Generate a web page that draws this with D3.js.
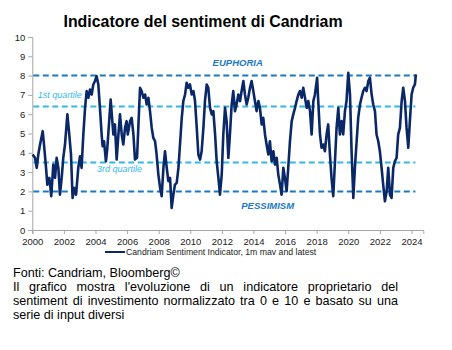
<!DOCTYPE html>
<html lang="it">
<head>
<meta charset="utf-8">
<title>Indicatore del sentiment di Candriam</title>
<script src="https://d3js.org/d3.v7.min.js"></script>
<style>
  body { margin: 0; background: #fff; }
  svg { font-family: "Liberation Sans", Arial, sans-serif; }
  .tick text { fill: #222; }
</style>
</head>
<body>
<svg id="chart" width="452" height="350"></svg>
<script>
// series: decimal year / indicator value
var years = [
  2000.02, 2000.17, 2000.28, 2000.38, 2000.49, 2000.66, 2000.74, 2000.87, 2000.95, 2001.08,
  2001.20, 2001.33, 2001.44, 2001.54, 2001.65, 2001.75, 2001.86, 2001.96, 2002.07, 2002.22,
  2002.34, 2002.45, 2002.55, 2002.66, 2002.77, 2002.91, 2003.02, 2003.12, 2003.23, 2003.34,
  2003.44, 2003.55, 2003.65, 2003.76, 2003.86, 2003.97, 2004.07, 2004.18, 2004.28, 2004.39,
  2004.45, 2004.54, 2004.66, 2004.75, 2004.88, 2004.96, 2005.05, 2005.13, 2005.23, 2005.34,
  2005.45, 2005.55, 2005.66, 2005.76, 2005.87, 2005.97, 2006.04, 2006.19, 2006.29, 2006.40,
  2006.50, 2006.63, 2006.71, 2006.82, 2006.92, 2007.03, 2007.14, 2007.24, 2007.35, 2007.45,
  2007.56, 2007.66, 2007.77, 2007.87, 2007.98, 2008.09, 2008.19, 2008.30, 2008.40, 2008.51,
  2008.61, 2008.72, 2008.82, 2008.93, 2009.03, 2009.14, 2009.25, 2009.35, 2009.46, 2009.56,
  2009.67, 2009.77, 2009.88, 2009.98, 2010.09, 2010.20, 2010.30, 2010.41, 2010.51, 2010.62,
  2010.72, 2010.83, 2010.93, 2011.04, 2011.14, 2011.25, 2011.36, 2011.46, 2011.57, 2011.67,
  2011.78, 2011.88, 2011.99, 2012.09, 2012.20, 2012.30, 2012.41, 2012.51, 2012.62, 2012.72,
  2012.83, 2012.93, 2013.04, 2013.15, 2013.25, 2013.36, 2013.46, 2013.57, 2013.67, 2013.78,
  2013.88, 2013.99, 2014.09, 2014.20, 2014.31, 2014.41, 2014.52, 2014.62, 2014.73, 2014.83,
  2014.94, 2015.04, 2015.15, 2015.26, 2015.36, 2015.47, 2015.57, 2015.68, 2015.78, 2015.89,
  2015.99, 2016.10, 2016.20, 2016.31, 2016.42, 2016.52, 2016.63, 2016.73, 2016.84, 2016.94,
  2017.05, 2017.15, 2017.26, 2017.37, 2017.47, 2017.58, 2017.68, 2017.79, 2017.89, 2018.03,
  2018.10, 2018.21, 2018.31, 2018.42, 2018.52, 2018.63, 2018.73, 2018.84, 2018.94, 2019.05,
  2019.16, 2019.26, 2019.37, 2019.47, 2019.58, 2019.68, 2019.79, 2019.89, 2020.00, 2020.11,
  2020.21, 2020.32, 2020.42, 2020.53, 2020.63, 2020.74, 2020.84, 2020.95, 2021.05, 2021.16,
  2021.27, 2021.37, 2021.48, 2021.58, 2021.69, 2021.79, 2021.90, 2022.00, 2022.11, 2022.21,
  2022.32, 2022.43, 2022.53, 2022.64, 2022.74, 2022.85, 2022.95, 2023.06, 2023.16, 2023.27,
  2023.38, 2023.48, 2023.59, 2023.69, 2023.80, 2023.90, 2024.01, 2024.11, 2024.22, 2024.28
]
var values = [
  3.91, 3.74, 3.22, 3.91, 4.43, 5.12, 4.43, 3.22, 2.35, 2.70,
  1.75, 3.39, 2.70, 3.74, 3.22, 1.83, 2.70, 3.74, 4.43, 5.99,
  4.95, 3.91, 1.66, 2.18, 1.83, 3.22, 3.82, 3.22, 4.95, 6.33,
  7.20, 6.85, 7.28, 7.02, 7.54, 7.72, 7.97, 7.54, 6.33, 4.95,
  4.34, 4.60, 3.56, 4.26, 5.81, 6.76, 5.81, 4.95, 5.47, 3.65,
  4.95, 5.99, 4.95, 4.43, 5.29, 5.64, 4.95, 5.64, 5.81, 4.95,
  3.65, 3.74, 5.29, 7.37, 7.20, 6.85, 7.02, 6.50, 6.85, 6.16,
  5.29, 4.77, 4.60, 3.91, 2.87, 2.18, 1.75, 3.22, 4.08, 3.22,
  2.53, 2.70, 1.14, 1.83, 2.35, 2.44, 3.22, 4.43, 5.81, 6.68,
  7.02, 7.63, 7.37, 7.54, 7.02, 7.20, 6.68, 5.29, 3.91, 3.65,
  4.08, 5.29, 6.68, 7.54, 7.37, 6.33, 5.99, 6.16, 4.95, 3.56,
  2.70, 1.83, 2.87, 4.95, 6.33, 5.64, 3.74, 4.95, 6.50, 7.20,
  6.16, 6.50, 7.02, 6.68, 7.20, 7.72, 7.02, 6.50, 6.85, 7.37,
  7.72, 7.20, 6.68, 6.16, 6.68, 6.33, 5.47, 5.81, 4.95, 4.43,
  3.91, 4.60, 3.56, 4.08, 3.39, 3.74, 2.87, 2.35, 1.83, 3.22,
  2.70, 2.01, 3.22, 4.60, 5.64, 5.99, 6.33, 6.68, 7.02, 7.20,
  6.85, 7.37, 6.85, 6.33, 6.68, 6.16, 4.95, 6.68, 7.02, 7.89,
  6.68, 4.95, 4.26, 4.43, 4.08, 4.95, 5.47, 3.91, 2.70, 1.75,
  3.56, 5.29, 6.33, 4.95, 5.64, 4.95, 6.16, 6.68, 8.15, 7.02,
  4.08, 1.66, 3.22, 4.60, 5.81, 6.50, 6.85, 7.20, 7.37, 7.20,
  7.72, 7.89, 7.02, 6.50, 6.16, 4.95, 4.60, 4.08, 3.22, 2.35,
  1.49, 2.01, 3.22, 1.83, 1.66, 3.22, 3.56, 3.74, 4.95, 5.29,
  6.68, 7.37, 6.68, 5.29, 4.26, 5.64, 7.02, 7.37, 7.54, 8.06
]

// reference levels
var levelValues = [8, 6.4, 3.5, 2]
var levelLabels = ["EUPHORIA", "1st quartile", "3rd quartile", "PESSIMISM"]
var xTicks = d3.range(2000, 2025, 2)
var yTicks = d3.range(0, 11, 1)

var title = "Indicatore del sentiment di Candriam"
var legendLabel = "Candriam Sentiment Indicator, 1m mav and latest"
var sourceLine = "Fonti: Candriam, Bloomberg©"
var noteLines = [
  "Il grafico mostra l'evoluzione di un indicatore proprietario del",
  "sentiment di investimento normalizzato tra 0 e 10 e basato su una",
  "serie di input diversi"
]

// colours
var navy = "#0a2868"
var darkDash = "#1b78c4"
var lightDash = "#35b6e8"
var axisGray = "#a6a6a6"

var data = years.map((y, i) => ({year: y, value: values[i]}))

var svg = d3.select("#chart")

var x = d3.scaleLinear().domain([2000, 2024.75]).range([32.3, 423.3])
var y = d3.scaleLinear().domain([0, 10]).range([230, 37])

// title
svg.append("text")
  .attr("x", 203).attr("y", 27)
  .attr("text-anchor", "middle")
  .attr("font-weight", "bold")
  .attr("font-size", 15.9)
  .attr("fill", "#000")
  .text(title)

// axes
var yAxis = svg.append("g")
  .attr("transform", "translate(" + x(2000) + ",0)")
  .call(d3.axisLeft(y).tickValues(yTicks).tickSize(4).tickPadding(3))
yAxis.selectAll("text").attr("font-size", 9.5).attr("font-family", null)
yAxis.selectAll("line, path").attr("stroke", axisGray)

var xAxis = svg.append("g")
  .attr("transform", "translate(0," + y(0) + ")")
  .call(d3.axisBottom(x).tickValues(xTicks).tickFormat(d3.format("d")).tickSize(4).tickPadding(4))
xAxis.selectAll("text").attr("font-size", 9.5).attr("font-family", null)
xAxis.selectAll("line, path").attr("stroke", axisGray)

// dashed levels
svg.append("g")
  .selectAll("line")
  .data(levelValues)
  .join("line")
  .attr("x1", x(2000) + 1)
  .attr("x2", x(2024.25))
  .attr("y1", d => y(d))
  .attr("y2", d => y(d))
  .attr("stroke", (d, i) => (i === 0 || i === 3) ? darkDash : lightDash)
  .attr("stroke-width", 2)
  .attr("stroke-dasharray", "6,3.5")

// level labels
var labelPos = [
  {x: 2013, dy: -10, anchor: "middle"},
  {x: 2000.35, dy: -8, anchor: "start"},
  {x: 2004.1, dy: 10, anchor: "start"},
  {x: 2014.9, dy: 18, anchor: "middle"}
]
svg.append("g")
  .selectAll("text")
  .data(levelLabels)
  .join("text")
  .attr("x", (d, i) => x(labelPos[i].x))
  .attr("y", (d, i) => y(levelValues[i]) + labelPos[i].dy)
  .attr("text-anchor", (d, i) => labelPos[i].anchor)
  .attr("font-style", "italic")
  .attr("font-weight", (d, i) => (i === 0 || i === 3) ? "bold" : "normal")
  .attr("font-size", (d, i) => (i === 0 || i === 3) ? 9.5 : 9)
  .attr("fill", (d, i) => (i === 0 || i === 3) ? darkDash : lightDash)
  .text(d => d)

// the series
var line = d3.line()
  .x(d => x(d.year))
  .y(d => y(d.value))

svg.append("path")
  .datum(data)
  .attr("fill", "none")
  .attr("stroke", navy)
  .attr("stroke-width", 2.6)
  .attr("stroke-linejoin", "round")
  .attr("d", line)

// legend
svg.append("line")
  .attr("x1", 105).attr("x2", 125)
  .attr("y1", 252).attr("y2", 252)
  .attr("stroke", navy).attr("stroke-width", 2)
svg.append("text")
  .attr("x", 126).attr("y", 255)
  .attr("font-size", 8.7)
  .attr("fill", "#222")
  .text(legendLabel)

// footnote
svg.append("text")
  .attr("x", 13).attr("y", 277)
  .attr("font-size", 12.6)
  .attr("fill", "#000")
  .text(sourceLine)

// justified note lines
var noteLeft = 13, noteRight = 398
noteLines.forEach(function(str, li) {
  var words = str.split(" ")
  var g = svg.append("g")
  var nodes = words.map(w => g.append("text")
    .attr("y", 291 + li * 14)
    .attr("font-size", 12.6)
    .attr("fill", "#000")
    .text(w))
  var widths = nodes.map(n => n.node().getComputedTextLength())
  var isLast = li === noteLines.length - 1
  var gap = isLast ? 3.5 : (noteRight - noteLeft - d3.sum(widths)) / (words.length - 1)
  var cx = noteLeft
  nodes.forEach(function(n, i) {
    n.attr("x", cx)
    cx += widths[i] + gap
  })
})
</script>
</body>
</html>
